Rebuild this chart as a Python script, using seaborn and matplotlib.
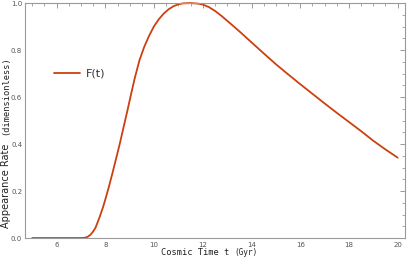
import numpy as np
import pandas as pd
import matplotlib
matplotlib.use("Agg")
import matplotlib.pyplot as plt
from matplotlib.ticker import MultipleLocator
import seaborn as sns

# dados
t_gyr = [5.0, 6.0, 7.0, 7.1, 7.2, 7.3, 7.4, 7.5, 7.6, 7.75, 7.9, 8.0, 8.15,
         8.3, 8.45, 8.6, 8.75, 8.9, 9.05, 9.2, 9.4, 9.6, 9.8, 10.0, 10.2,
         10.4, 10.6, 10.8, 11.0, 11.2, 11.5, 11.8, 12.0, 12.25, 12.5, 12.75,
         13.0, 13.5, 14.0, 14.5, 15.0, 15.5, 16.0, 16.5, 17.0, 17.5, 18.0,
         18.5, 19.0, 19.5, 20.0]
rate = [0.0, 0.0, 0.0, 0.0005, 0.002, 0.007, 0.015, 0.028, 0.045, 0.085,
        0.13, 0.165, 0.22, 0.28, 0.342, 0.405, 0.473, 0.54, 0.61, 0.678,
        0.757, 0.815, 0.862, 0.902, 0.932, 0.956, 0.974, 0.987, 0.995, 0.999,
        1.0, 0.998, 0.994, 0.983, 0.967, 0.947, 0.925, 0.88, 0.833, 0.786,
        0.74, 0.697, 0.655, 0.614, 0.573, 0.533, 0.494, 0.455, 0.414, 0.377,
        0.342]
x_ticks = [6, 8, 10, 12, 14, 16, 18, 20]
y_ticks = [0.0, 0.2, 0.4, 0.6, 0.8, 1.0]

df = pd.DataFrame({"t": t_gyr, "F": rate})

sns.set_style("white")
fig = plt.figure(figsize=(4.07, 2.6), dpi=100)
ax = fig.add_axes([0.0614, 0.0846, 0.9336, 0.9034])

sns.lineplot(data=df, x="t", y="F", ax=ax, color="#cc4010", linewidth=1.3,
             label="F(t)", clip_on=False)

ax.set_xlim(4.7, 20.3)
ax.set_ylim(0, 1)
ax.set_xticks(x_ticks)
ax.set_yticks(y_ticks)
ax.xaxis.set_minor_locator(MultipleLocator(0.5))
ax.yaxis.set_minor_locator(MultipleLocator(0.05))
ax.set_xticklabels([str(v) for v in x_ticks])
ax.set_yticklabels([f"{v:.1f}" for v in y_ticks])

gray = "#9a9a9a"
for s in ax.spines.values():
    s.set_color(gray)
    s.set_linewidth(0.8)
ax.tick_params(which="both", direction="in", top=True, right=True,
               color=gray, labelsize=5, labelcolor="#555555")
ax.tick_params(axis="x", pad=3)
ax.tick_params(axis="y", pad=2)
ax.tick_params(which="major", length=3.5, width=0.7)
ax.tick_params(which="minor", length=2, width=0.6)

ax.set_xlabel("")
ax.set_ylabel("")
# rótulos dos eixos (fontes misturadas como no original)
fig.text(161 / 407, 0.01, "Cosmic Time t", fontsize=6.3, family="DejaVu Sans Mono",
         ha="left", va="bottom", color="#222222")
fig.text(234 / 407, 0.01, "(Gyr)", fontsize=5.6, family="DejaVu Sans Mono",
         ha="left", va="bottom", color="#222222")
fig.text(0.002, (260 - 228) / 260, "Appearance Rate", fontsize=7,
         family="DejaVu Sans", rotation=90, ha="left", va="bottom", color="#222222")
fig.text(0.004, (260 - 135) / 260, "(dimensionless)", fontsize=6.2,
         family="DejaVu Sans Mono", rotation=90, ha="left", va="bottom",
         color="#222222")

leg = ax.legend(loc="center left", bbox_to_anchor=(0.05, 0.70), frameon=False,
                fontsize=8, handlelength=2.3, handletextpad=0.6)
for txt in leg.get_texts():
    txt.set_color("#333333")

plt.savefig("out.png", dpi=100)
plt.close()
